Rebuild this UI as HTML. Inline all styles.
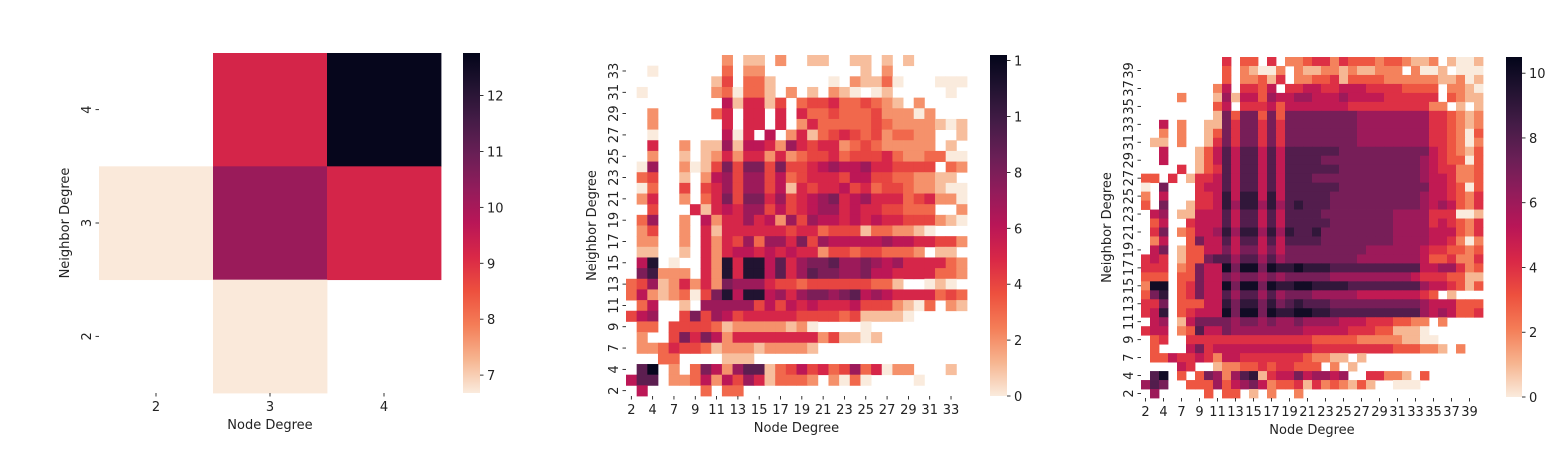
<!DOCTYPE html>
<html><head><meta charset="utf-8">
<style>
html,body{margin:0;padding:0;background:#fff;}
svg{display:block;font-family:"DejaVu Sans","Liberation Sans",sans-serif;}
</style></head>
<body>
<svg id="fig" width="1563" height="455" viewBox="0 0 1563 455" xmlns="http://www.w3.org/2000/svg">
<defs>
<linearGradient id="rocket" x1="0" y1="1" x2="0" y2="0">
<stop offset="0" stop-color="#faebdd"/><stop offset="0.1" stop-color="#f6b48f"/><stop offset="0.2" stop-color="#f47d57"/><stop offset="0.3" stop-color="#ed503e"/><stop offset="0.4" stop-color="#d92847"/><stop offset="0.5" stop-color="#b91657"/><stop offset="0.6" stop-color="#921c5b"/><stop offset="0.7" stop-color="#6a1f56"/><stop offset="0.8" stop-color="#451c47"/><stop offset="0.9" stop-color="#221331"/><stop offset="1" stop-color="#03051a"/>
</linearGradient>
</defs>
</svg>
<script>
// ---- Chart 1 data ----
const c1Categories = ["2","3","4"];
const c1RowsTopDown = ["4","3","2"];
const c1Values = [
  [null, 9.2, 12.7],
  [6.7, 10.2, 9.2],
  [null, 6.7, null]
];
const c1Ticks = [7,8,9,10,11,12];
const c1TickLabels = ["7","8","9","10","11","12"];

// ---- Chart 2 data ----
const c2Categories = ["2","3","4","6","7","8","9","10","11","12","13","14","15","16","17","18","19","20","21","22","23","24","25","26","27","28","29","30","31","32","33","34"];
const c2Rows = [
".........2.11.2..11..11.1.1.....",
"..0......3.22.........1.2.......",
"........14.331.....0.21130...000",
".0......230331.2.1.210.01.....0.",
".........615514.3445334321.2....",
"..2.....35.55.5.5334333422202...",
"..2......5.55.5.2533333432222101",
"..0......605.6.25134543423322..1",
"..5..2.1171665275455234322222.1.",
"..2..1.12525525234453444532233001",
".07..201484884844567667554444.32",
".34..1.267477463455546644332211.",
".03..4.4574774615455645344322100",
".25..2.3584885745678567555345220",
"..4...51565774645677565544333..2",
".37..2.6255756274766565655444210",
".24..2.5155555545534441332210...",
".22..2.5254737758476666676655442",
".11..1.525665656552443443332.11.",
".6b.0..52b5bb6957889778767555532",
".8a222.52b5bb6957988778665555332",
"34712525287775443444444331..010.",
"362123048b6bb6757887896765555343",
".36..1.7777746465655564442103.21",
"467..4847645555544443411110.....",
".33.44443122222120....0.........",
".2..48586255555555241101........",
".22354431222122221..............",
"...33....111....................",
".9c.2.386279913464534735022...1.",
"699.22362647513332.2030....0....",
".6.....3.33....................."
];
const c2Ticks = [0,2,4,6,8,10,12];
const c2TickLabels = ["0","2","4","6","8","1","1"];

// ---- Chart 3 data ----
const c3Categories = ["2","3","4","6","7","8","9","10","11","12","13","14","15","16","17","18","19","20","21","22","23","24","25","26","27","28","29","30","31","32","33","34","35","36","37","38","39","40"];
const c3Rows = [
".........4.33.4.22344243332332112.1001",
".........3.21002.211221211222.2001.000",
".........3.22314.223341333322222211201",
"........25.4435.44554455544443333.2210",
"....2...1615536556655565555444444.3211",
"........35.44453555555544444444422.1.1",
"........173773737777777766666666443212",
"..5.2..1174774747777777766666666443212",
"..2.2..1374774747777777766666666443203",
".11.2..1474774747777777766666666443202",
"..5...135858858588888877777777775432 13",
"..5...135858858588887777777777765433 03",
"....4.134858858588888877777777765442 23",
"33.4.1445858858588877777777777765542 23",
"0.7...455858858588888877777777775543 03",
"2.5...445959959588888777777777765543 24",
"3.7..1445969969689888777777777765653 24",
".56.11555858858588887777777766664440 01",
".35..4555858858588888777777766664543 24",
".47.23556969969698897777777766665553 24",
".25..3755858858588887777777766665542 02",
".57.13355757757577777777766666654433 23",
"454.13378868868677777777666666653342 24",
"444.23755a7aa7a99a99988888888885566423",
"333.33755767767677777666666666544433 11",
"2aa.34755a7aa7a99aa9999888888886554313",
"379.347558688686777666665555555 43.1...",
"447.33355979979789888777777777765553 33",
"459.34555a7aa7a99aa9988888888886565334",
".56.1577776776766766665554443322.2....",
"455.2385576666666655555444331110......",
".34..4444444444444433333222221100......",
".3...574555555555554444444443332 21.2..",
".3354454255444444432211.1.............",
"....54..122334344333.2.1..............",
".8a.3.37626891455756656..44221.3......",
"687..333635675233414232131..000.......",
".6.....3.33.1.2..2...................."
].map(r=>r.replace(/ /g,""));
const c3Ticks = [0,2,4,6,8,10];
const c3TickLabels = ["0","2","4","6","8","10"];

// ---- colormap ----
const stops = [[0,"#faebdd"],[0.1,"#f6b48f"],[0.2,"#f47d57"],[0.3,"#ed503e"],[0.4,"#d92847"],[0.5,"#b91657"],[0.6,"#921c5b"],[0.7,"#6a1f56"],[0.8,"#451c47"],[0.9,"#221331"],[1,"#03051a"]];
function hx(c){return [parseInt(c.slice(1,3),16),parseInt(c.slice(3,5),16),parseInt(c.slice(5,7),16)];}
function cmap(t){
  t=Math.max(0,Math.min(1,t));
  for(let i=1;i<stops.length;i++){
    if(t<=stops[i][0]){
      const a=stops[i-1],b=stops[i];const f=(t-a[0])/(b[0]-a[0]);
      const A=hx(a[1]),B=hx(b[1]);
      return "rgb("+A.map((v,k)=>Math.round(v+(B[k]-v)*f)).join(",")+")";
    }
  }
  return stops[stops.length-1][1];
}
const NS="http://www.w3.org/2000/svg";
const svg=document.getElementById("fig");
function el(tag,attrs,parent){
  const e=document.createElementNS(NS,tag);
  for(const k in attrs)e.setAttribute(k,attrs[k]);
  (parent||svg).appendChild(e);return e;
}
function parseRows(rows,n){
  return rows.map(r=>{const out=[];for(let i=0;i<n;i++){const ch=r[i];out.push(ch===undefined||ch==="."?null:parseInt(ch,16));}return out;});
}

function drawChart(id,cfg){
  const g=el("g",{});
  
  
  const {x0,y0,w,h,cats,rowCats,vals,vmin,vmax,tickStep}=cfg;
  const nc=cats.length,nr=rowCats.length;
  const cw=w/nc,ch=h/nr;
  const xs=i=>x0+i*cw, ys=j=>y0+j*ch;
  const cells=el("g",{},g);
  
  
  for(let j=0;j<nr;j++)for(let i=0;i<nc;i++){
    const v=vals[j][i];if(v===null)continue;
    const r=el("rect",{x:xs(i).toFixed(2),y:ys(j).toFixed(2),width:(cw+0.4).toFixed(2),height:(ch+0.4).toFixed(2),fill:cmap((v-vmin)/(vmax-vmin))},cells);
    
    
  }
  const xt=el("g",{},g);
  
  
  for(let i=0;i<nc;i+=tickStep){
    const cx=xs(i)+cw/2;
    el("line",{x1:cx,x2:cx,y1:y0+h,y2:y0+h+3.5,stroke:"#000","stroke-width":0.8},xt);
    const t=el("text",{x:cx,y:y0+h+18,"text-anchor":"middle","font-size":"13",fill:"#222"},xt);
    
    
    t.textContent=cats[i];
  }
  const yt=el("g",{},g);
  
  
  for(let j=nr-1;j>=0;j-=tickStep){
    const cy=ys(j)+ch/2;
    el("line",{x1:x0-3.5,x2:x0,y1:cy,y2:cy,stroke:"#000","stroke-width":0.8},yt);
    const tx=x0-8;
    const t=el("text",{x:tx,y:cy,"text-anchor":"middle","font-size":"13",fill:"#222",transform:"rotate(-90 "+tx+" "+cy+")"},yt);
    
    
    t.textContent=rowCats[j];
  }
  const xtitle=el("text",{x:x0+w/2,y:y0+h+36,"text-anchor":"middle","font-size":"13",fill:"#222"},g);
  
  
  xtitle.textContent="Node Degree";
  const ytx=cfg.ytitleX, yty=y0+h/2;
  const ytitle=el("text",{x:ytx,y:yty,"text-anchor":"middle","font-size":"13",fill:"#222",transform:"rotate(-90 "+ytx+" "+yty+")"},g);
  
  
  ytitle.textContent="Neighbor Degree";
  const cb=el("g",{},g);
  
  
  const {cbx,cby,cbw,cbh}=cfg;
  el("rect",{x:cbx,y:cby,width:cbw,height:cbh,fill:"url(#rocket)"},cb);
  const cy=v=>cby+cbh-(v-vmin)/(vmax-vmin)*cbh;
  cfg.ticks.forEach((v,k)=>{
    const yy=cy(v);
    el("line",{x1:cbx+cbw,x2:cbx+cbw+3.5,y1:yy,y2:yy,stroke:"#000","stroke-width":0.8},cb);
    const t=el("text",{x:cbx+cbw+7,y:yy+5,"font-size":"13",fill:"#222"},cb);
    
    
    t.textContent=cfg.tickLabels[k];
  });
}

drawChart("heatmap-degree-small",{x0:99,y0:53,w:342,h:340,cats:c1Categories,rowCats:c1RowsTopDown,vals:c1Values,vmin:6.68,vmax:12.76,tickStep:1,ytitleX:69,cbx:463,cby:53,cbw:17,cbh:340,ticks:c1Ticks,tickLabels:c1TickLabels});
drawChart("heatmap-degree-medium",{x0:626,y0:55,w:341,h:341,cats:c2Categories,rowCats:c2Categories.slice().reverse(),vals:parseRows(c2Rows,c2Categories.length),vmin:0,vmax:12.2,tickStep:2,ytitleX:596,cbx:990,cby:55,cbw:17,cbh:341,ticks:c2Ticks,tickLabels:c2TickLabels});
drawChart("heatmap-degree-large",{x0:1141,y0:57,w:342,h:341,cats:c3Categories,rowCats:c3Categories.slice().reverse(),vals:parseRows(c3Rows,c3Categories.length),vmin:0,vmax:10.5,tickStep:2,ytitleX:1111,cbx:1506,cby:57,cbw:16,cbh:340,ticks:c3Ticks,tickLabels:c3TickLabels});
</script>
</body></html>
